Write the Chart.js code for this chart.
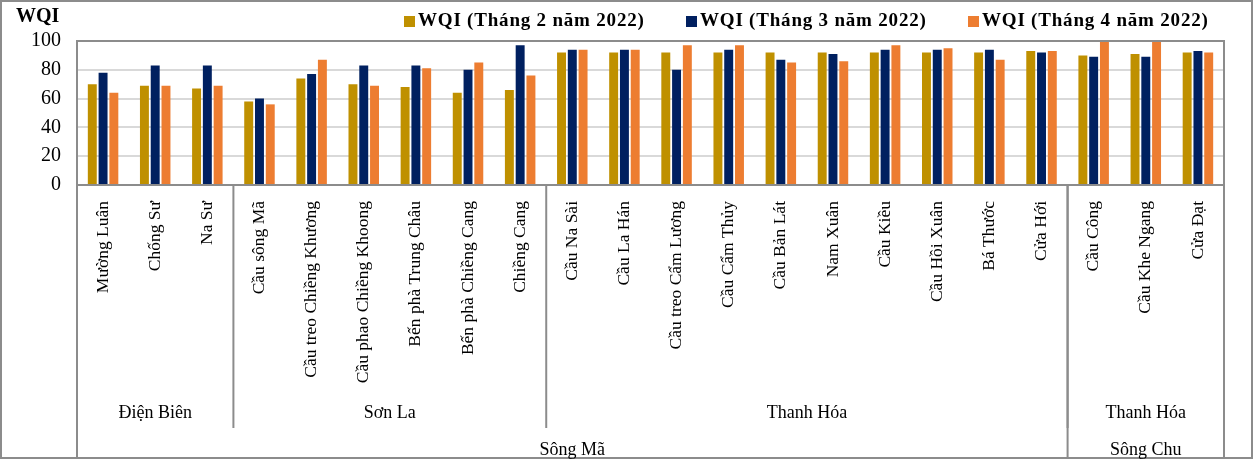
<!DOCTYPE html>
<html>
<head>
<meta charset="utf-8">
<script src="https://cdn.jsdelivr.net/npm/chart.js@4"></script>
<style>
  html, body { margin: 0; padding: 0; background: #fff; }
  #wrap { width: 1253px; height: 459px; }
</style>
</head>
<body>
<div id="wrap"><canvas id="chartWqi"></canvas></div>
<script>
const stations = [
    'Mường Luân', 'Chống Sư', 'Na Sư',
    'Cầu sông Mã', 'Cầu treo Chiềng Khương', 'Cầu phao Chiềng Khoong', 'Bến phà Trung Châu', 'Bến phà Chiềng Cang', 'Chiềng Cang',
    'Cầu Na Sài', 'Cầu La Hán', 'Cầu treo Cẩm Lương', 'Cầu Cẩm Thủy', 'Cầu Bản Lát', 'Nam Xuân', 'Cầu Kiều', 'Cầu Hồi Xuân', 'Bá Thước', 'Cửa Hới',
    'Cầu Công', 'Cầu Khe Ngang', 'Cửa Đạt',
];
const wqiFeb = [70, 69, 67, 58, 74, 70, 68, 64, 66, 92, 92, 92, 92, 92, 92, 92, 92, 92, 93, 90, 91, 92];
const wqiMar = [78, 83, 83, 60, 77, 83, 83, 80, 97, 94, 94, 80, 94, 87, 91, 94, 94, 94, 92, 89, 89, 93];
const wqiApr = [64, 69, 69, 56, 87, 69, 81, 85, 76, 94, 94, 97, 97, 85, 86, 97, 95, 87, 93, 100, 100, 92];
const yTicks = [0, 20, 40, 60, 80, 100];

// groups: [label, first index, last index]
const provinces = [['Điện Biên', 0, 2], ['Sơn La', 3, 8], ['Thanh Hóa', 9, 18], ['Thanh Hóa', 19, 21]];
const rivers = [['Sông Mã', 0, 18], ['Sông Chu', 19, 21]];

const FONT = '"Liberation Serif", "Times New Roman", serif';
const LINE = '#8c8c8c';

const decorations = {
    id: 'decorations',
    afterDraw(chart) {
        const ctx = chart.ctx;
        const area = chart.chartArea;
        const x = chart.scales.x;
        const H = chart.height;
        const edge = (i) => (x.getPixelForValue(i) + x.getPixelForValue(i + 1)) / 2;
        const left = area.left;
        const right = area.right;
        ctx.save();

        // outer frame + plot frame
        ctx.strokeStyle = LINE;
        ctx.lineWidth = 2;
        ctx.strokeRect(1, 1, chart.width - 2, H - 2);
        ctx.strokeRect(left, area.top, right - left, area.bottom - area.top);

        // separators under the axis
        const vline = (px, y2) => {
            ctx.beginPath();
            ctx.moveTo(px, area.bottom);
            ctx.lineTo(px, y2);
            ctx.stroke();
        };
        vline(left, H);
        vline(right, H);
        provinces.slice(0, -1).forEach((p) => vline(edge(p[2]), 428));
        rivers.slice(0, -1).forEach((r) => vline(edge(r[2]), H));

        ctx.fillStyle = '#000';
        ctx.textAlign = 'center';
        ctx.textBaseline = 'middle';
        ctx.font = '18px ' + FONT;
        const span = (a, b) => {
            const l = a === 0 ? left : edge(a - 1);
            const r = b === stations.length - 1 ? right : edge(b);
            return (l + r) / 2;
        };
        provinces.forEach((p) => ctx.fillText(p[0], span(p[1], p[2]), 413));
        rivers.forEach((r) => ctx.fillText(r[0], span(r[1], r[2]), 450));

        // axis title
        ctx.font = 'bold 20px ' + FONT;
        ctx.textAlign = 'left';
        ctx.fillText('WQI', 16, 17);

        // legend
        ctx.font = 'bold 19px ' + FONT;
        ctx.letterSpacing = '0.8px';
        chart.data.datasets.forEach((ds, i) => {
            const lx = 404 + i * 282;
            ctx.fillStyle = ds.backgroundColor;
            ctx.fillRect(lx, 16, 11, 11);
            ctx.fillStyle = '#000';
            ctx.fillText(ds.label, lx + 14, 21);
        });
        ctx.restore();
    },
};

new Chart(document.getElementById('chartWqi'), {
    type: 'bar',
    data: {
        labels: stations,
        datasets: [
            { label: 'WQI (Tháng 2 năm 2022)', data: wqiFeb, backgroundColor: '#BF9000' },
            { label: 'WQI (Tháng 3 năm 2022)', data: wqiMar, backgroundColor: '#002060' },
            { label: 'WQI (Tháng 4 năm 2022)', data: wqiApr, backgroundColor: '#ED7D31' },
        ],
    },
    options: {
        responsive: true,
        maintainAspectRatio: false,
        animation: false,
        layout: { padding: { left: 0, right: 29, top: 41, bottom: 0 } },
        datasets: { bar: { categoryPercentage: 0.62, barPercentage: 0.83 } },
        plugins: { legend: { display: false }, tooltip: { enabled: false } },
        scales: {
            x: {
                grid: { display: false },
                border: { display: false },
                afterFit: (s) => { s.height = 274; },
                ticks: {
                    autoSkip: false,
                    minRotation: 90,
                    maxRotation: 90,
                    padding: 8,
                    color: '#000',
                    font: { family: FONT, size: 17.5 },
                },
            },
            y: {
                min: 0,
                max: 100,
                afterFit: (s) => { s.width = 77; },
                afterBuildTicks: (s) => { s.ticks = yTicks.map((v) => ({ value: v })); },
                grid: { color: '#d9d9d9', lineWidth: 2, drawTicks: false },
                border: { display: false },
                ticks: {
                    padding: 16,
                    color: '#000',
                    font: { family: FONT, size: 20 },
                },
            },
        },
    },
    plugins: [decorations],
});
</script>
</body>
</html>
